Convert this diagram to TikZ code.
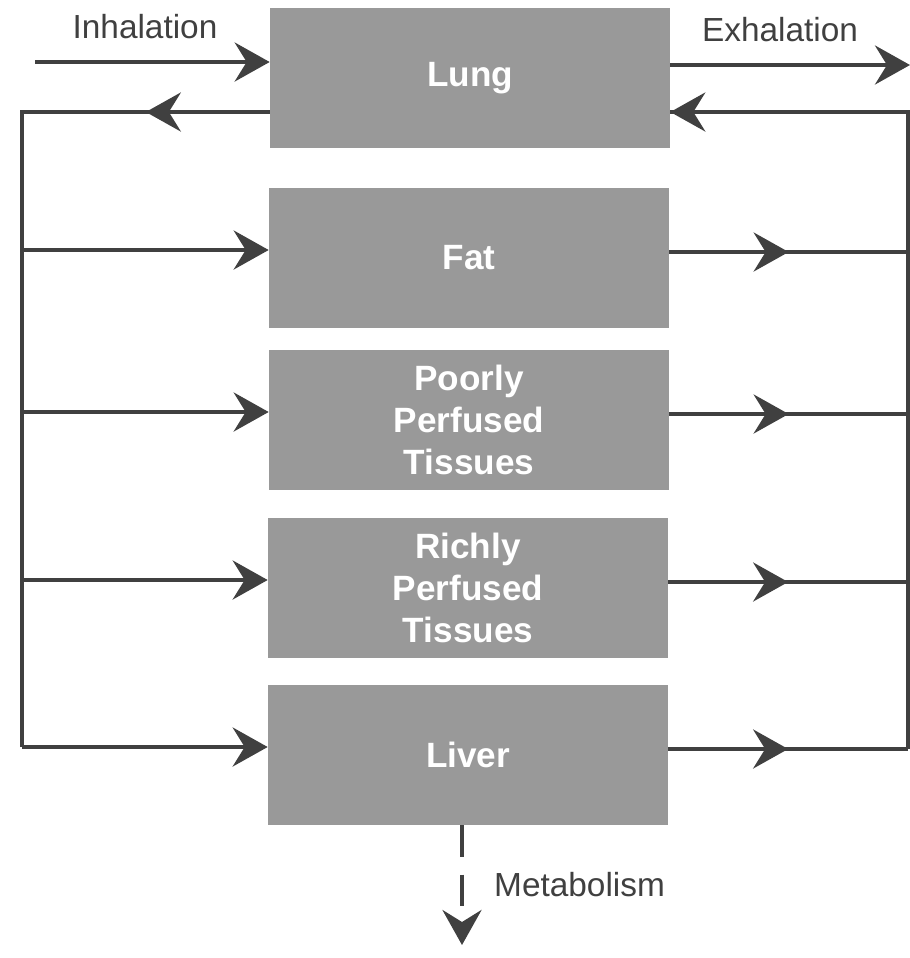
\documentclass[tikz,border=0pt]{standalone}
\usepackage{fontspec}
\setmainfont{Liberation Sans}
\usetikzlibrary{arrows.meta,decorations.markings}
\definecolor{BoxClr}{rgb}{0.6,0.6,0.6}
\definecolor{LineClr}{rgb}{0.25,0.25,0.25}

\begin{document}
\begin{tikzpicture}[x=0.02cm,y=-0.02cm,
  organ/.style={fill=BoxClr,minimum width=8cm,minimum height=2.8cm,
    text=white,font=\fontsize{20}{24}\selectfont\bfseries,align=center},
  flow/.style={draw=LineClr,line width=2.4pt,
    -{Stealth[length=0.7cm,width=0.78cm,inset=0.24cm]}},
  midflow/.style={draw=LineClr,line width=2.4pt,postaction={decorate},
    decoration={markings,mark=at position 0.5 with
      {\arrow{Stealth[length=0.7cm,width=0.78cm,inset=0.24cm]}}}},
  bus/.style={draw=LineClr,line width=2.4pt},
  lbl/.style={font=\fontsize{19}{22}\selectfont,text=LineClr}]
\useasboundingbox (0,0) rectangle (910,958);

% compartments
\node[organ] (lung)   at (470,78)  {Lung};
\node[organ] (fat)    at (469,258) {Fat};
\node[organ] (poorly) at (469,420) {Poorly\\Perfused\\Tissues};
\node[organ] (richly) at (468,588) {Richly\\Perfused\\Tissues};
\node[organ] (liver)  at (468,755) {Liver};

% labels
\node[lbl] (inlbl)  at (145,27)  {Inhalation};
\node[lbl] (exlbl)  at (780,30)  {Exhalation};
\node[lbl,anchor=west] (metlbl) at (488,885) {Metabolism};

% bus corners
\coordinate (inhale) at (35,62);
\coordinate (exhale) at (910,65);
\coordinate (artL) at (22,112);
\coordinate (venR) at (908,112);
\coordinate (metend) at (462,945);

% lung exchange
\draw[flow] (inhale) -- (inhale -| lung.west);
\draw[flow] (lung.east |- exhale) -- (exhale);
\draw[midflow] (lung.west |- artL) -- (artL);
\draw[flow] (venR) -- (venR -| lung.east);

% arterial side
\draw[bus] (lung.west |- artL) -- (artL) -- ([yshift=0.16cm]artL |- liver.west);
\foreach \org in {fat,poorly,richly,liver}
  \draw[flow] ([yshift=0.16cm]\org.west -| artL) -- ([yshift=0.16cm]\org.west);

% venous side
\draw[bus] (venR -| lung.east) -- (venR) -- ([yshift=0.12cm]venR |- liver.east);
\foreach \org in {fat,poorly,richly,liver}
  \draw[midflow] ([yshift=0.12cm]\org.east) -- ([yshift=0.12cm]\org.east -| venR);

% metabolism
\draw[flow,dashed,dash pattern=on 18pt off 10pt] (liver.south -| metend) -- (metend);

\end{tikzpicture}
\end{document}
